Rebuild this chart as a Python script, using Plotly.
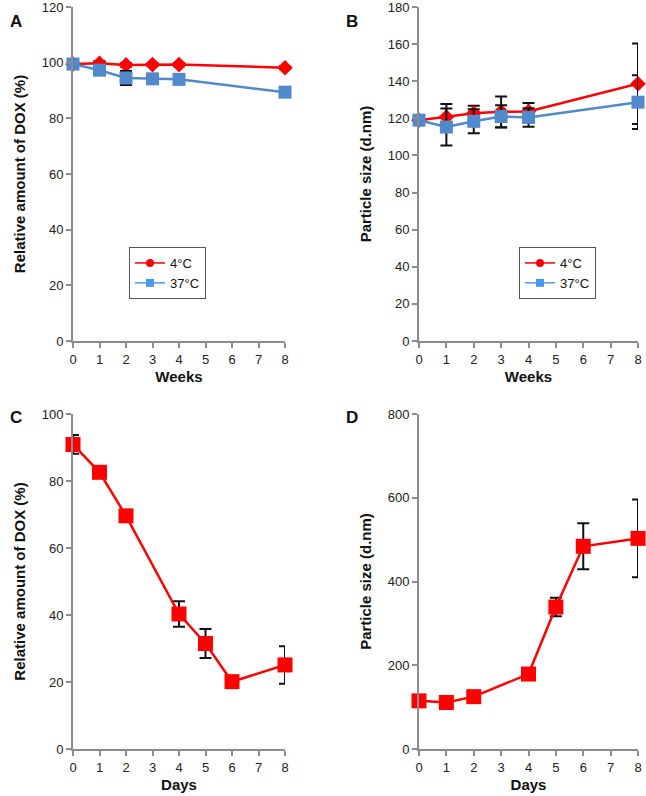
import plotly.graph_objs as go

# Panel A / B: storage at 4 and 37 degC over weeks
weeks = [0, 1, 2, 3, 4, 8]
dox_4c = [99.5, 99.8, 99.2, 99.3, 99.3, 98.2]
dox_4c_err = [0.5, 0.8, 0.6, 0.6, 0.6, 0.5]
dox_37c = [99.5, 97.3, 94.5, 94.2, 94.0, 89.4]
dox_37c_err = [0.5, 0.8, 2.5, 0.6, 0.6, 0.5]

size_4c = [119, 120.7, 122.8, 123.5, 123.7, 138.6]
size_4c_err = [1, 7, 4, 8.3, 4.5, 21.7]
size_37c = [119, 115.3, 118.4, 121, 120.5, 128.7]
size_37c_err = [1, 10, 6.5, 6, 5, 14.5]

# Panel C / D: over days
days = [0, 1, 2, 4, 5, 6, 8]
dox_days = [90.9, 82.6, 69.6, 40.3, 31.5, 20.1, 25.1]
dox_days_err = [2.8, 0.5, 0.5, 3.8, 4.3, 0.5, 5.6]
size_days = [115, 111, 125, 179, 339, 484, 503]
size_days_err = [5, 5, 5, 5, 22, 55, 93]

RED = "#ff0000"
BLUE = "#5089cc"
GREY = "#8c8c8c"
FONT = "Arial, Liberation Sans, sans-serif"

fig = go.Figure()


def err(vals):
    return dict(type="data", array=vals, color="#111111", thickness=2, width=6)


def series(x, y, e, color, symbol, size, ax, ay):
    fig.add_trace(go.Scatter(x=x, y=y, error_y=err(e), mode="lines+markers",
                             line=dict(color=color, width=2.5),
                             marker=dict(symbol=symbol, size=size, color=color),
                             xaxis=ax, yaxis=ay, showlegend=False, cliponaxis=False))


def legend_entry(name, color, symbol, legend):
    # small markers for the legend box only
    fig.add_trace(go.Scatter(x=[None], y=[None], name=name, mode="lines+markers",
                             line=dict(color=color, width=1.5),
                             marker=dict(symbol=symbol, size=8, color=color),
                             legend=legend))


series(weeks, dox_4c, dox_4c_err, RED, "diamond", 12, "x", "y")
series(weeks, dox_37c, dox_37c_err, BLUE, "square", 13, "x", "y")
series(weeks, size_4c, size_4c_err, RED, "diamond", 12, "x2", "y2")
series(weeks, size_37c, size_37c_err, BLUE, "square", 13, "x2", "y2")
series(days, dox_days, dox_days_err, RED, "square", 15, "x3", "y3")
series(days, size_days, size_days_err, RED, "square", 15, "x4", "y4")

legend_entry("4°C", RED, "circle", "legend")
legend_entry("37°C", "#4a9ae8", "square", "legend")
legend_entry("4°C", RED, "circle", "legend2")
legend_entry("37°C", "#4a9ae8", "square", "legend2")

axis_common = dict(showline=True, linecolor=GREY, linewidth=2, ticks="outside",
                   tickcolor=GREY, tickwidth=2, ticklen=5, showgrid=False,
                   zeroline=False, automargin=False, ticklabeloverflow="allow",
                   tickfont=dict(size=13, color="#222222"),
                   title_font=dict(size=15, color="#111111"))


def xax(dom, anchor, title):
    return dict(axis_common, domain=dom, anchor=anchor, range=[0, 8], dtick=1,
                title=dict(text="<b>" + title + "</b>", standoff=6))


def yax(dom, anchor, rng, dtick, title):
    return dict(axis_common, domain=dom, anchor=anchor, range=rng, dtick=dtick,
                title=dict(text="<b>" + title + "</b>", standoff=12))


left = [73 / 646, 285 / 646]
right = [419 / 646, 638 / 646]
top = [(796 - 341) / 796, (796 - 7) / 796]
bottom = [(796 - 749) / 796, (796 - 414) / 796]

legend_style = dict(xanchor="left", yanchor="top", bordercolor="#555555",
                    borderwidth=1, bgcolor="white", font=dict(size=13),
                    tracegroupgap=0, itemwidth=30)

fig.update_layout(
    width=646, height=796,
    margin=dict(l=0, r=0, t=0, b=0),
    plot_bgcolor="white", paper_bgcolor="white",
    font=dict(family=FONT, color="#111111"),
    xaxis=xax(left, "y", "Weeks"),
    yaxis=yax(top, "x", [0, 120], 20, "Relative amount of DOX (%)"),
    xaxis2=xax(right, "y2", "Weeks"),
    yaxis2=yax(top, "x2", [0, 180], 20, "Particle size (d.nm)"),
    xaxis3=xax(left, "y3", "Days"),
    yaxis3=yax(bottom, "x3", [0, 100], 20, "Relative amount of DOX (%)"),
    xaxis4=xax(right, "y4", "Days"),
    yaxis4=yax(bottom, "x4", [0, 800], 200, "Particle size (d.nm)"),
    legend=dict(legend_style, x=129 / 646, y=(796 - 247) / 796),
    legend2=dict(legend_style, x=519 / 646, y=(796 - 247) / 796),
)

for letter, x, y in [("A", 8, 10), ("B", 352, 10), ("C", 8, 417), ("D", 352, 417)]:
    fig.add_annotation(text="<b>" + letter + "</b>", x=x / 646, y=1 - y / 796,
                       xref="paper", yref="paper", showarrow=False,
                       font=dict(size=17, color="#111111"))

# drop the default page margin so the figure sits at the window corner
fig.write_html("out.html", config={"displayModeBar": False},
               post_script="document.body.style.margin='0px';"
                           "document.body.style.overflow='hidden';")
